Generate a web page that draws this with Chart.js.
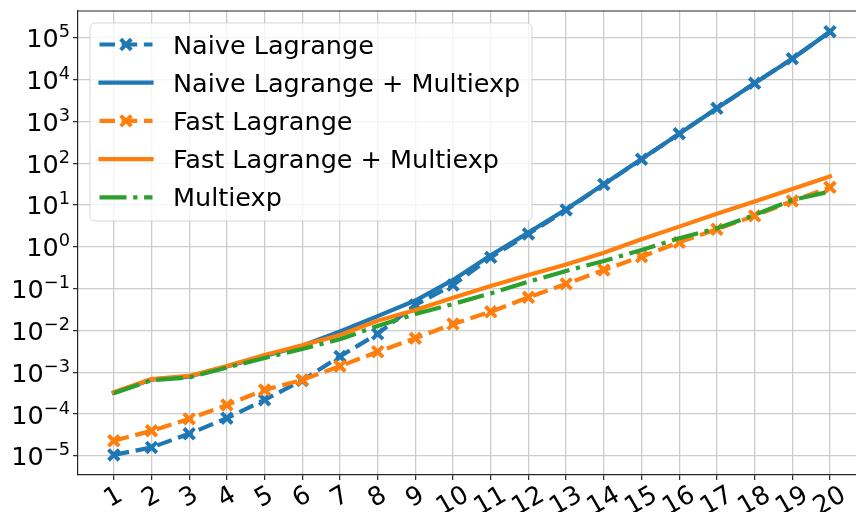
<!DOCTYPE html>
<html>
<head>
<meta charset="utf-8">
<script src="https://cdn.jsdelivr.net/npm/chart.js@4.4.1/dist/chart.umd.min.js"></script>
<style>
html, body { margin: 0; padding: 0; background: #ffffff; }
#wrap { width: 856px; height: 512px; }
</style>
</head>
<body>
<div id="wrap"><canvas id="c" width="856" height="512"></canvas></div>
<script>
// Problem size n on the x axis
const nValues = [1, 2, 3, 4, 5, 6, 7, 8, 9, 10, 11, 12, 13, 14, 15, 16, 17, 18, 19, 20];

// Running times (seconds) per method
const naiveLagrange = [1.06e-5, 1.6e-5, 3.4e-5, 8.0e-5, 2.2e-4, 6.4e-4, 2.4e-3, 8.3e-3, 0.041, 0.122,
  0.56, 2.03, 7.6, 31, 124, 507, 2050, 8130, 31500, 139000];
const naiveLagrangeMultiexp = [3.25e-4, 6.7e-4, 7.9e-4, 1.38e-3, 2.45e-3, 4.3e-3, 9.5e-3, 0.022, 0.052, 0.162,
  0.63, 2.18, 7.9, 31.5, 125, 508, 2050, 8140, 31500, 139000];
const fastLagrange = [2.3e-5, 4.0e-5, 7.7e-5, 1.66e-4, 3.8e-4, 6.6e-4, 1.4e-3, 3.1e-3, 6.5e-3, 0.0143,
  0.028, 0.062, 0.13, 0.28, 0.58, 1.28, 2.63, 5.5, 12.5, 26.5];
const fastLagrangeMultiexp = [3.35e-4, 6.9e-4, 8.2e-4, 1.42e-3, 2.6e-3, 4.4e-3, 7.8e-3, 0.0171, 0.031, 0.061,
  0.115, 0.212, 0.38, 0.72, 1.51, 3.04, 6.2, 12.2, 24, 48];
const multiexp = [3.15e-4, 6.5e-4, 7.5e-4, 1.3e-3, 2.2e-3, 3.6e-3, 6.2e-3, 0.0128, 0.0248, 0.043,
  0.077, 0.147, 0.265, 0.46, 0.84, 1.6, 2.76, 5.8, 13.2, 21];

// Decades labelled on the y axis (10^k)
const yTickExponents = [-5, -4, -3, -2, -1, 0, 1, 2, 3, 4, 5];

const seriesNames = ['Naive Lagrange', 'Naive Lagrange + Multiexp', 'Fast Lagrange',
  'Fast Lagrange + Multiexp', 'Multiexp'];

const FONT = "'DejaVu Sans', 'Liberation Sans', sans-serif";
const BLUE = '#1f77b4', ORANGE = '#ff7f0e', GREEN = '#2ca02c';
const LW = 4.2;
const SOLID = [];
const DASHED = [15.5, 6.7];
const DASH_DOT = [27, 6.7, 4.2, 6.7];
const MARK_R = 7.5;
const TEXT_PX = 25.5;
const EXP_PX = 17.8;

function toPoints(values) {
  return values.map((v, i) => ({ x: nValues[i], y: v }));
}

function series(label, values, color, dash, marker, order) {
  return {
    label,
    data: toPoints(values),
    borderColor: color,
    backgroundColor: color,
    borderWidth: LW,
    borderDash: dash,
    borderCapStyle: dash.length ? 'butt' : 'square',
    borderJoinStyle: 'round',
    pointStyle: 'crossRot',
    pointRadius: marker ? MARK_R : 0,
    pointHoverRadius: marker ? MARK_R : 0,
    pointBorderWidth: 4,
    pointBorderColor: color,
    pointBackgroundColor: color,
    tension: 0,
    fill: false,
    order,
    hasMarker: marker
  };
}

const datasets = [
  series(seriesNames[0], naiveLagrange, BLUE, DASHED, true, 5),
  series(seriesNames[1], naiveLagrangeMultiexp, BLUE, SOLID, false, 4),
  series(seriesNames[2], fastLagrange, ORANGE, DASHED, true, 3),
  series(seriesNames[3], fastLagrangeMultiexp, ORANGE, SOLID, false, 2),
  series(seriesNames[4], multiexp, GREEN, DASH_DOT, false, 1)
];

function drawX(ctx, x, y, r, color) {
  const d = r * Math.SQRT1_2;
  ctx.save();
  ctx.setLineDash([]);
  ctx.strokeStyle = color;
  ctx.lineWidth = 4;
  ctx.lineCap = 'butt';
  ctx.beginPath();
  ctx.moveTo(x - d, y - d); ctx.lineTo(x + d, y + d);
  ctx.moveTo(x + d, y - d); ctx.lineTo(x - d, y + d);
  ctx.stroke();
  ctx.restore();
}

// Tick labels with superscript exponents, rotated n labels, top spine and legend box
const decorations = {
  id: 'decorations',
  afterDraw(chart) {
    const ctx = chart.ctx;
    const area = chart.chartArea;
    const xs = chart.scales.x, ys = chart.scales.y;
    ctx.save();

    // top spine
    ctx.strokeStyle = '#262626';
    ctx.lineWidth = 1.2;
    ctx.beginPath();
    ctx.moveTo(area.left, area.top);
    ctx.lineTo(area.right, area.top);
    ctx.stroke();

    ctx.fillStyle = '#000000';
    ctx.textBaseline = 'alphabetic';

    // y labels: 10^k
    const right = 70;
    for (const k of yTickExponents) {
      const py = ys.getPixelForValue(Math.pow(10, k));
      const expText = (k < 0 ? '\u2212' : '') + Math.abs(k);
      ctx.font = TEXT_PX + 'px ' + FONT;
      const wBase = ctx.measureText('10').width;
      ctx.font = EXP_PX + 'px ' + FONT;
      const wExp = ctx.measureText(expText).width;
      const x0 = right - wBase - wExp;
      const base = py + 9.5;
      ctx.textAlign = 'left';
      ctx.font = TEXT_PX + 'px ' + FONT;
      ctx.fillText('10', x0, base);
      ctx.font = EXP_PX + 'px ' + FONT;
      ctx.fillText(expText, x0 + wBase, base - 10);
    }

    // x labels rotated 30 degrees, centred under each tick
    ctx.font = TEXT_PX + 'px ' + FONT;
    ctx.textAlign = 'center';
    ctx.textBaseline = 'middle';
    const ang = Math.PI / 6;
    for (const n of nValues) {
      const px = xs.getPixelForValue(n);
      const txt = String(n);
      const w = ctx.measureText(txt).width;
      const h = 29;
      const cy = area.bottom + 6 + (w * Math.sin(ang) + h * Math.cos(ang)) / 2;
      ctx.save();
      ctx.translate(px, cy);
      ctx.rotate(-ang);
      ctx.fillText(txt, 0, 0);
      ctx.restore();
    }

    // legend
    const lx = 90, ly = 23, lw = 442, lh = 198, rad = 5;
    ctx.beginPath();
    ctx.moveTo(lx + rad, ly);
    ctx.arcTo(lx + lw, ly, lx + lw, ly + lh, rad);
    ctx.arcTo(lx + lw, ly + lh, lx, ly + lh, rad);
    ctx.arcTo(lx, ly + lh, lx, ly, rad);
    ctx.arcTo(lx, ly, lx + lw, ly, rad);
    ctx.closePath();
    ctx.fillStyle = 'rgba(255,255,255,0.8)';
    ctx.fill();
    ctx.strokeStyle = 'rgba(204,204,204,0.8)';
    ctx.lineWidth = 1;
    ctx.stroke();

    const rowY0 = 44.5, rowStep = 38.2;
    chart.data.datasets.forEach((ds, i) => {
      const y = rowY0 + i * rowStep;
      ctx.save();
      ctx.strokeStyle = ds.borderColor;
      ctx.lineWidth = LW;
      ctx.setLineDash(ds.borderDash);
      ctx.lineCap = ds.borderDash.length ? 'butt' : 'square';
      ctx.beginPath();
      const x1 = ds.borderDash.length ? 99.5 : 100.5;
      const x2 = ds.borderDash.length ? 152.5 : 151.5;
      ctx.moveTo(x1, y);
      ctx.lineTo(x2, y);
      ctx.stroke();
      ctx.restore();
      if (ds.hasMarker) drawX(ctx, 126, y, MARK_R, ds.borderColor);
      ctx.fillStyle = '#000000';
      ctx.font = TEXT_PX + 'px ' + FONT;
      ctx.textAlign = 'left';
      ctx.textBaseline = 'alphabetic';
      ctx.fillText(ds.label, 173, y + 9);
    });

    ctx.restore();
  }
};

new Chart(document.getElementById('c'), {
  type: 'line',
  data: { datasets },
  options: {
    responsive: false,
    devicePixelRatio: 1,
    animation: false,
    layout: { autoPadding: false, padding: { top: 11, right: 0, bottom: 0, left: 0 } },
    plugins: { legend: { display: false }, tooltip: { enabled: false } },
    scales: {
      x: {
        type: 'linear',
        min: 0.05,
        max: 20.69,
        afterBuildTicks: s => { s.ticks = nValues.map(v => ({ value: v })); },
        afterFit: s => { s.height = 37; },
        ticks: { display: false },
        grid: { color: '#cccccc', lineWidth: 1.3, tickLength: 5, tickColor: '#262626', tickWidth: 1.2 },
        border: { color: '#262626', width: 1.2 }
      },
      y: {
        type: 'logarithmic',
        min: Math.pow(10, -5.455),
        max: Math.pow(10, 5.638),
        afterBuildTicks: s => { s.ticks = yTickExponents.map(k => ({ value: Math.pow(10, k) })); },
        afterFit: s => { s.width = 78; },
        ticks: { display: false },
        grid: { color: '#cccccc', lineWidth: 1.3, tickLength: 5, tickColor: '#262626', tickWidth: 1.2 },
        border: { color: '#262626', width: 1.2 }
      }
    }
  },
  plugins: [decorations]
});
</script>
</body>
</html>
